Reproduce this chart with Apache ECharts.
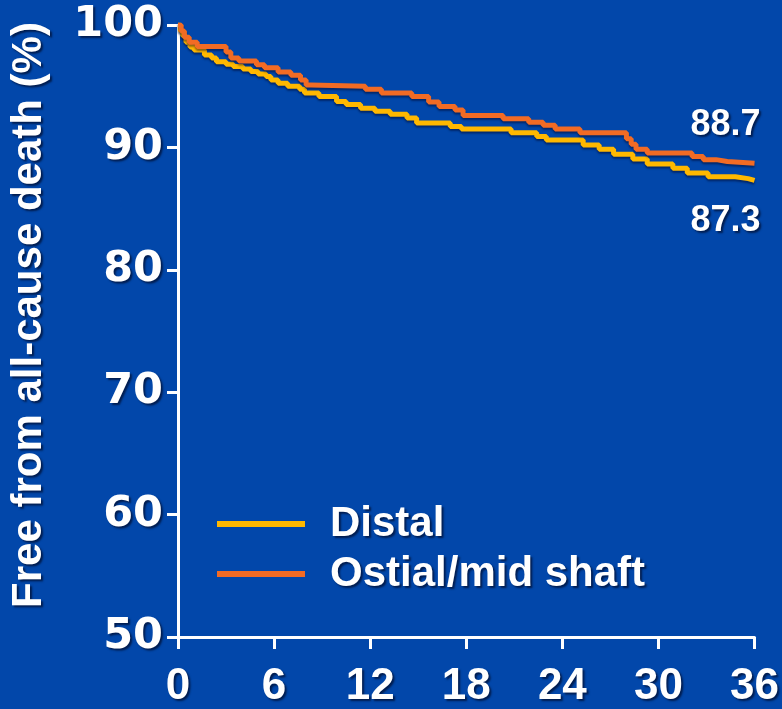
<!DOCTYPE html>
<html>
<head>
<meta charset="utf-8">
<script src="https://cdn.jsdelivr.net/npm/echarts@6/dist/echarts.min.js"></script>
<style>
  html, body { margin: 0; padding: 0; background: #0247AA; }
  #chart { width: 782px; height: 709px; }
</style>
</head>
<body>
<div id="chart"></div>
<script>
// Kaplan-Meier estimates: survival (%) after each step, with the month it occurs
const distalMonths = [0, 0.15, 0.3, 0.5, 0.75, 1.0, 1.65, 2.1, 2.4, 3.0, 3.45, 4.05, 4.55, 5.0, 5.5, 5.8, 6.25, 6.85, 7.6, 7.9, 8.8, 9.9, 10.5, 11.4, 12.3, 13.25, 14.3, 14.9, 17.0, 17.7, 20.8, 22.4, 23.0, 25.3, 26.3, 27.2, 28.4, 29.3, 30.9, 31.8, 33.1, 34.8, 35.6, 36];
const distalSurvival = [100, 99.5, 99.1, 98.6, 98.2, 97.95, 97.55, 97.3, 97.0, 96.8, 96.6, 96.4, 96.2, 96.0, 95.8, 95.5, 95.25, 95.0, 94.75, 94.45, 94.15, 93.75, 93.5, 93.2, 92.95, 92.7, 92.4, 92.0, 91.7, 91.5, 91.2, 90.9, 90.6, 90.2, 89.85, 89.45, 89.05, 88.65, 88.3, 87.9, 87.6, 87.45, 87.3, 87.3];

const ostialMonths = [0, 0.2, 0.4, 0.7, 1.2, 3.0, 3.3, 3.8, 4.9, 5.4, 6.25, 7.05, 7.65, 8.0, 8.3, 11.7, 12.7, 14.6, 15.65, 16.3, 17.3, 17.8, 20.3, 21.9, 22.8, 23.55, 25.1, 28.0, 28.3, 28.6, 29.3, 32.1, 32.8, 33.6, 34.3, 36];
const ostialSurvival = [100, 99.5, 99.0, 98.6, 98.25, 97.8, 97.3, 97.05, 96.75, 96.5, 96.15, 95.9, 95.5, 95.1, 95.0, 94.75, 94.45, 94.15, 93.7, 93.35, 93.05, 92.6, 92.35, 92.05, 91.8, 91.5, 91.2, 90.7, 90.25, 89.85, 89.55, 89.25, 89.0, 88.85, 88.7, 88.7];

const seriesNames = ['Distal', 'Ostial/mid shaft'];
const seriesColors = ['#FFB800', '#F26B24'];
const yAxisTitle = 'Free from all-cause death (%)';

const zip = (xs, ys) => xs.map((x, i) => [x, ys[i]]);
const distalData = zip(distalMonths, distalSurvival);
const ostialData = zip(ostialMonths, ostialSurvival);

const shadow = {
  textShadowColor: 'rgba(0,0,20,0.6)',
  textShadowBlur: 2,
  textShadowOffsetX: 2,
  textShadowOffsetY: 2
};

function endMark(data, pos, offset) {
  const last = data[data.length - 1];
  return {
    symbol: 'circle',
    symbolSize: 0,
    silent: true,
    data: [{ coord: last, value: last[1] }],
    label: Object.assign({
      show: true,
      position: pos,
      offset: offset,
      formatter: p => p.value.toFixed(1),
      color: '#fff',
      fontFamily: 'Liberation Sans, Arial, sans-serif',
      fontWeight: 'bold',
      fontSize: 36
    }, shadow)
  };
}

const lineStyleFor = color => ({
  color: color,
  width: 5,
  shadowColor: 'rgba(0,0,30,0.45)',
  shadowBlur: 2,
  shadowOffsetY: 2
});

const chart = echarts.init(document.getElementById('chart'));
chart.setOption({
  backgroundColor: '#0247AA',
  animation: false,
  grid: { left: 178, right: 25, top: 25, bottom: 71 },
  legend: {
    orient: 'vertical',
    left: 217,
    top: 503,
    padding: 0,
    itemWidth: 88,
    itemHeight: 6,
    itemGap: 8,
    icon: 'rect',
    data: seriesNames,
    textStyle: Object.assign({
      color: '#fff',
      fontFamily: 'Liberation Sans, Arial, sans-serif',
      fontWeight: 'bold',
      fontSize: 42,
      padding: [0, 0, 0, 20]
    }, shadow)
  },
  xAxis: {
    type: 'value',
    min: 0,
    max: 36,
    interval: 6,
    splitLine: { show: false },
    axisLine: { lineStyle: { color: '#fff', width: 3 } },
    axisTick: { show: true, length: 12, lineStyle: { color: '#fff', width: 3 } },
    axisLabel: Object.assign({
      color: '#fff',
      fontFamily: 'Liberation Sans Narrow, Arial Narrow, Liberation Sans, sans-serif',
      fontWeight: 'bold',
      fontSize: 44,
      margin: 28
    }, shadow)
  },
  yAxis: {
    type: 'value',
    min: 50,
    max: 100,
    interval: 10,
    name: yAxisTitle,
    nameLocation: 'middle',
    nameRotate: 90,
    nameGap: 128,
    nameTextStyle: Object.assign({
      color: '#fff',
      fontFamily: 'Liberation Sans, Arial, sans-serif',
      fontWeight: 'bold',
      fontSize: 42,
      padding: [0, 0, 0, 32]
    }, shadow),
    splitLine: { show: false },
    axisLine: { show: true, lineStyle: { color: '#fff', width: 3 } },
    axisTick: { show: true, length: 11, lineStyle: { color: '#fff', width: 3 } },
    axisLabel: Object.assign({
      color: '#fff',
      fontFamily: 'DejaVu Sans, sans-serif',
      fontWeight: 'bold',
      fontSize: 43,
      margin: 15
    }, shadow)
  },
  series: [
    {
      name: seriesNames[0],
      type: 'line',
      step: 'end',
      showSymbol: false,
      color: seriesColors[0],
      lineStyle: lineStyleFor(seriesColors[0]),
      data: distalData,
      markPoint: endMark(distalData, 'bottom', [-29, 18])
    },
    {
      name: seriesNames[1],
      type: 'line',
      step: 'end',
      showSymbol: false,
      color: seriesColors[1],
      lineStyle: lineStyleFor(seriesColors[1]),
      data: ostialData,
      markPoint: endMark(ostialData, 'top', [-29, -15])
    }
  ]
});
</script>
</body>
</html>
